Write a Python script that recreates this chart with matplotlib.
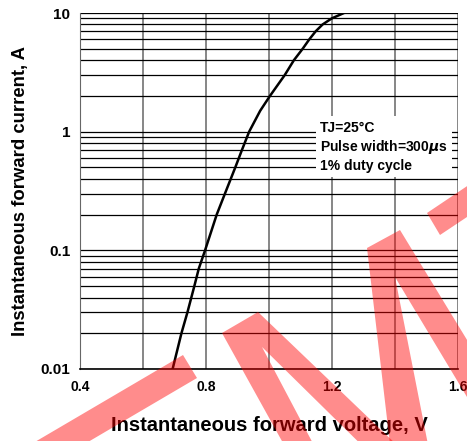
import numpy as np
import matplotlib.pyplot as plt
from matplotlib.patches import Polygon
from matplotlib.ticker import FixedLocator, NullFormatter

plt.rcParams['font.family'] = ['Liberation Sans', 'DejaVu Sans']
plt.rcParams['font.weight'] = 'bold'
plt.rcParams['mathtext.fontset'] = 'dejavusans'

# Forward characteristic
voltage = [0.694, 0.722, 0.741, 0.763, 0.777, 0.797, 0.834, 0.860, 0.893, 0.914,
           0.937, 0.972, 1.003, 1.050, 1.079, 1.107, 1.128, 1.148, 1.170, 1.199, 1.238]
current = [0.01, 0.02, 0.03, 0.05, 0.07, 0.1, 0.2, 0.3, 0.5, 0.7,
           1.0, 1.5, 2.0, 3.0, 4.0, 5.0, 6.0, 7.0, 8.0, 9.0, 10.0]

x_ticks = [0.4, 0.8, 1.2, 1.6]
x_tick_labels = ['0.4', '0.8', '1.2', '1.6']
x_grid = [0.4, 0.6, 0.8, 1.0, 1.2, 1.4, 1.6]
y_ticks = [0.01, 0.1, 1, 10]
y_tick_labels = ['0.01', '0.1', '1', '10']

W, H = 467, 441
fig = plt.figure(figsize=(W / 100, H / 100), dpi=100)
ax = fig.add_axes([80 / W, 1 - 369 / H, 378 / W, 356 / H])

ax.set_xlim(0.4, 1.6)
ax.set_yscale('log')
ax.set_ylim(0.01, 10)

# grid: grey verticals, black horizontals at every log step
for xv in x_grid:
    ax.axvline(xv, color='#666666', lw=1.1, zorder=1)
h_lines = [m * 10.0 ** e for e in range(-2, 1) for m in range(1, 10)] + [10]
for yv in h_lines:
    ax.axhline(yv, color='black', lw=0.9, zorder=1)

ax.plot(voltage, current, color='black', lw=1.8, zorder=3)

ax.set_xticks(x_ticks)
ax.set_xticklabels(x_tick_labels, fontsize=10, fontweight='bold')
ax.set_yticks(y_ticks)
ax.set_yticklabels(y_tick_labels, fontsize=11, fontweight='bold')
ax.yaxis.set_minor_locator(FixedLocator([]))
ax.yaxis.set_minor_formatter(NullFormatter())
ax.tick_params(axis='both', length=0)
ax.tick_params(axis='x', pad=8)
ax.tick_params(axis='y', pad=7)

for side in ['top', 'right']:
    ax.spines[side].set_visible(False)
ax.spines['left'].set_color('#666666')
ax.spines['bottom'].set_linewidth(1.2)

ax.set_xlabel('Instantaneous forward voltage, V', fontsize=14.5, fontweight='bold', labelpad=16)
ax.set_ylabel('Instantaneous forward current, A', fontsize=13.3, fontweight='bold', labelpad=8)

ax.text(0.635, 0.625, 'TJ=25°C\nPulse width=300$\\mu$s\n1% duty cycle',
        transform=ax.transAxes, fontsize=10, fontweight='bold', va='center', ha='left',
        linespacing=1.25, zorder=4,
        bbox=dict(facecolor='white', edgecolor='none', pad=3))

# red watermark strokes (pixel coords of the picture, y downwards)
marks = [
    [(183, 355), (197, 378), (25, 479), (11, 456)],
    [(222, 333), (258, 312), (423, 470), (387, 470), (262, 347), (327, 470), (298, 470)],
    [(367, 248), (400, 230), (500, 394), (500, 452), (395, 277), (433, 470), (393, 470)],
    [(427, 213), (500, 164), (500, 195), (440, 235)],
]
for pts in marks:
    fig.add_artist(Polygon([(px / W, 1 - py / H) for px, py in pts], closed=True,
                           transform=fig.transFigure, facecolor='red', edgecolor='none',
                           alpha=0.45, zorder=10))

fig.savefig('out.png', dpi=100)
